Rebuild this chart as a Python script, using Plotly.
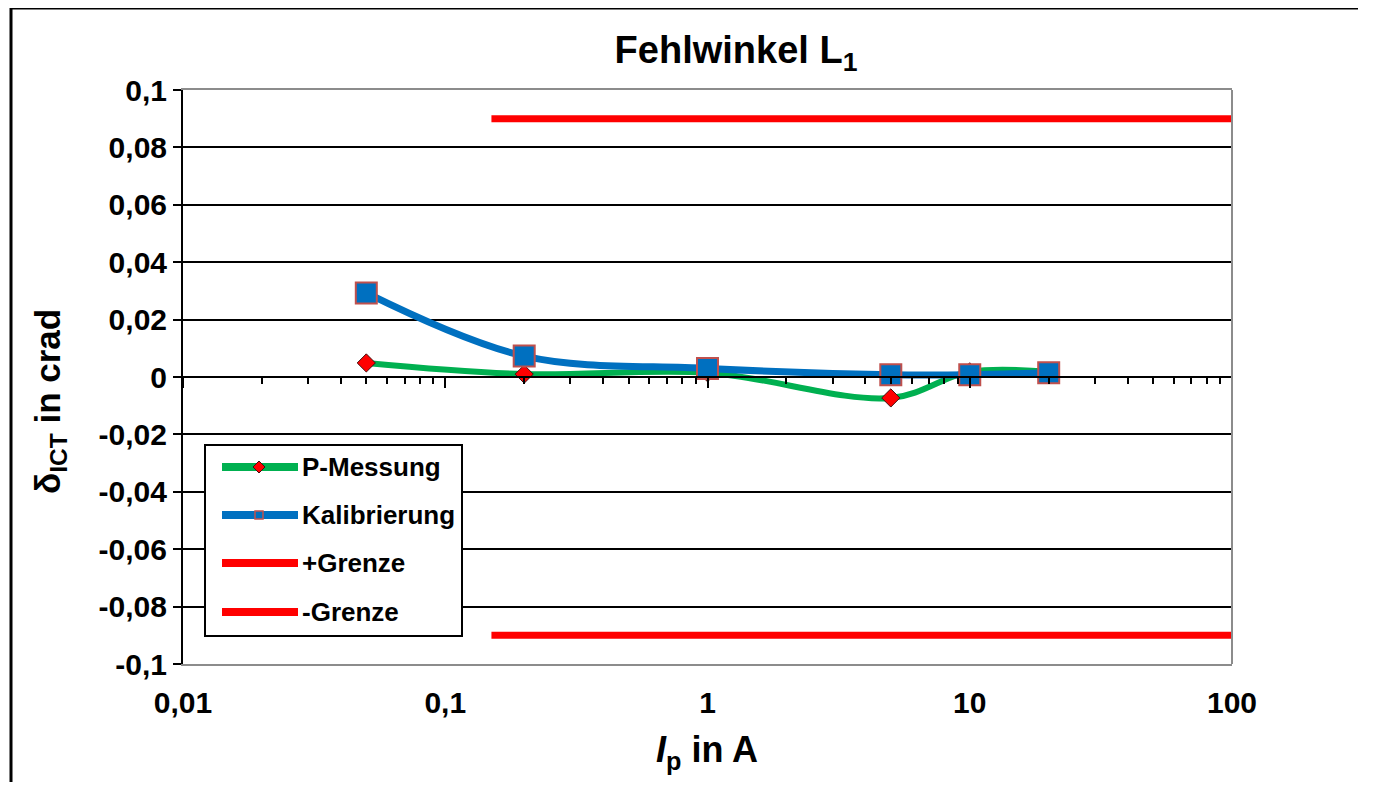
import plotly.graph_objects as go

# ---- data ----
current_A = [0.05, 0.2, 1, 5, 10, 20]
p_messung = [0.0049, 0.0010, 0.0015, -0.0073, 0.0018, 0.0018]
kalibrierung = [0.0293, 0.0073, 0.0030, 0.0008, 0.0008, 0.0015]
limit_x = [0.15, 100]
limit_plus = [0.09, 0.09]
limit_minus = [-0.09, -0.09]

y_tickvals = [0.1, 0.08, 0.06, 0.04, 0.02, 0, -0.02, -0.04, -0.06, -0.08, -0.1]
y_ticktext = ["0,1", "0,08", "0,06", "0,04", "0,02", "0", "-0,02", "-0,04", "-0,06", "-0,08", "-0,1"]
x_tickvals = [0.01, 0.1, 1, 10, 100]
x_ticktext = ["0,01", "0,1", "1", "10", "100"]
legend_names = ["P-Messung", "Kalibrierung", "+Grenze", "-Grenze"]

FONT = "Liberation Sans, Arial, sans-serif"
GREEN, BLUE, RED, MRK_EDGE = "#00B050", "#0070C0", "#FF0000", "#C0504D"

# pixel helpers for the plot area (plot area: x 183..1232, y 90..664 in the page)
def px(x):
    return (x - 183) / 1049

def py(y):
    return (664 - y) / 574

fig = go.Figure()
fig.add_trace(go.Scatter(
    x=current_A, y=p_messung, name=legend_names[0], mode="lines+markers",
    line=dict(color=GREEN, width=6, shape="spline", smoothing=1),
    marker=dict(symbol="diamond", size=14, color=RED, line=dict(color="#401010", width=1))))
fig.add_trace(go.Scatter(
    x=current_A, y=kalibrierung, name=legend_names[1], mode="lines+markers",
    line=dict(color=BLUE, width=7, shape="spline", smoothing=1),
    marker=dict(symbol="square", size=21, color=BLUE, line=dict(color=MRK_EDGE, width=2))))
fig.add_trace(go.Scatter(
    x=limit_x, y=limit_plus, name=legend_names[2], mode="lines",
    line=dict(color=RED, width=7)))
fig.add_trace(go.Scatter(
    x=limit_x, y=limit_minus, name=legend_names[3], mode="lines",
    line=dict(color=RED, width=7)))

fig.update_layout(
    width=1359, height=775,
    margin=dict(l=175, r=135, t=82, b=119),
    paper_bgcolor="white", plot_bgcolor="white",
    font=dict(family=FONT, color="black"),
    showlegend=False,
    title=dict(text="<b>Fehlwinkel L<sub>1</sub></b>", x=(736-8)/1359, xref="container",
               y=1-(50-8)/775, yref="container", xanchor="center", yanchor="middle",
               font=dict(size=38, family=FONT, color="black")),
    xaxis=dict(type="log", range=[-2, 2], tickvals=x_tickvals, ticktext=x_ticktext,
               ticks="", showgrid=False, zeroline=False,
               showline=True, linecolor="#8C8C8C", linewidth=2, mirror=True,
               tickfont=dict(size=30, family=FONT, weight="bold"),
               ticklabelstandoff=11),
    xaxis2=dict(type="log", range=[-2, 2], overlaying="x", anchor="free", position=0.5,
                side="bottom", showticklabels=False, showgrid=False, zeroline=False,
                showline=True, linecolor="black", linewidth=2,
                dtick=1, ticks="outside", ticklen=10, tickwidth=2, tickcolor="black",
                minor=dict(ticks="outside", ticklen=6, tickwidth=2, tickcolor="black", dtick="D1")),
    yaxis=dict(range=[-0.1, 0.1], tickvals=y_tickvals, ticktext=y_ticktext,
               showgrid=True, gridcolor="black", gridwidth=1.5, zeroline=False,
               showline=True, linecolor="black", linewidth=2,
               ticks="outside", ticklen=8, tickwidth=2, tickcolor="black",
               tickfont=dict(size=30, family=FONT, weight="bold"),
               ticklabelstandoff=0),
)

# invisible trace to activate xaxis2
fig.add_trace(go.Scatter(x=[1], y=[0], xaxis="x2", mode="markers",
                         marker=dict(opacity=0), showlegend=False, hoverinfo="skip"))

# right border of plot area
fig.add_shape(type="line", xref="paper", yref="paper", x0=1, x1=1, y0=0, y1=1,
              line=dict(color="#8C8C8C", width=2))
# outer chart frame (left & top), kept inside the figure
fig.add_shape(type="line", xref="paper", yref="paper", x0=px(11), x1=px(11),
              y0=py(782), y1=py(8), line=dict(color="black", width=3))
fig.add_shape(type="line", xref="paper", yref="paper", x0=px(11), x1=px(1358),
              y0=py(8), y1=py(8), line=dict(color="black", width=3))

# ---- legend (drawn manually to match the long sample lines) ----
fig.add_shape(type="rect", xref="paper", yref="paper", x0=px(205), x1=px(462),
              y0=py(636), y1=py(445), line=dict(color="black", width=2), fillcolor="white",
              layer="above")
row_y = [467, 515, 563, 612]
row_col = [GREEN, BLUE, RED, RED]
for name, yy, col in zip(legend_names, row_y, row_col):
    fig.add_shape(type="line", xref="paper", yref="paper", x0=px(222), x1=px(298),
                  y0=py(yy), y1=py(yy), line=dict(color=col, width=8), layer="above")
    fig.add_annotation(text=f"<b>{name}</b>", xref="paper", yref="paper",
                       x=px(300), y=py(yy), xanchor="left", yanchor="middle",
                       showarrow=False, font=dict(size=26, family=FONT, color="black"))
# legend marker: diamond
d = 6
fig.add_shape(type="path", xref="paper", yref="paper",
              path=f"M {px(259-d)} {py(467)} L {px(259)} {py(467-d)} L {px(259+d)} {py(467)} L {px(259)} {py(467+d)} Z",
              fillcolor=RED, line=dict(color="#401010", width=1), layer="above")
# legend marker: square
s = 4
fig.add_shape(type="rect", xref="paper", yref="paper", x0=px(259-s), x1=px(259+s),
              y0=py(515+s), y1=py(515-s), fillcolor=BLUE, line=dict(color=MRK_EDGE, width=1.5),
              layer="above")

fig.add_annotation(text="<b>δ<sub>ICT</sub> in crad</b>", xref="paper", yref="paper",
                   x=px(50), y=py(402), xanchor="center", yanchor="middle",
                   textangle=-90, showarrow=False,
                   font=dict(size=35, family=FONT, color="black"))
fig.add_annotation(text="<b><i>I</i><sub>p</sub> in A</b>", xref="paper", yref="paper",
                   x=px(707), y=py(752), xanchor="center", yanchor="middle",
                   showarrow=False,
                   font=dict(size=36, family=FONT, color="black"))

fig.write_html("out.html")
